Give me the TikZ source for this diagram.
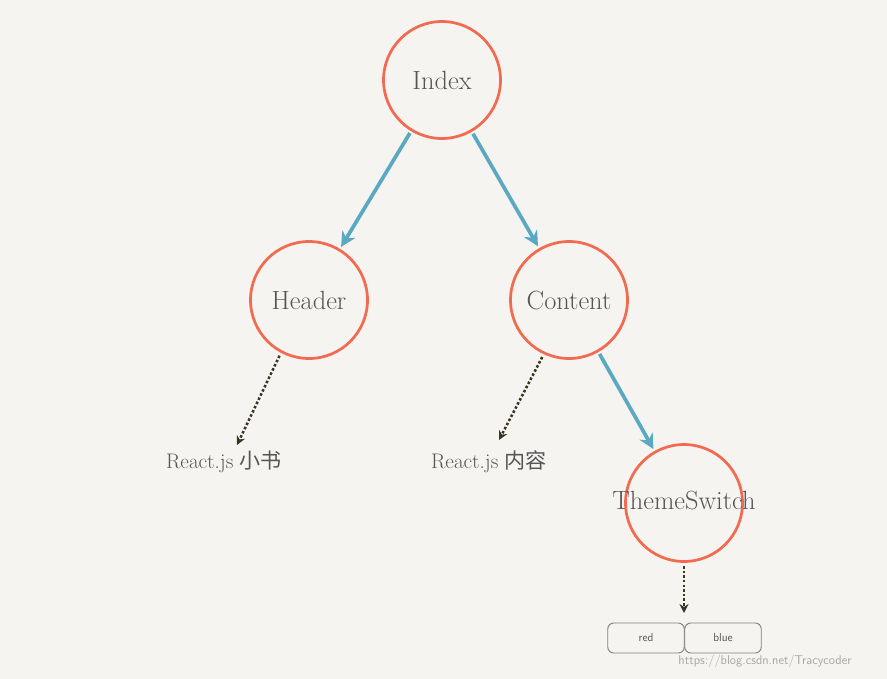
\documentclass[tikz,border=0pt]{standalone}
\usepackage{fontspec}
\usetikzlibrary{arrows.meta}
\newfontfamily\cjk{Noto Sans CJK SC}
\definecolor{bgc}{HTML}{F5F4F1}
\definecolor{ringc}{HTML}{F26B50}
\definecolor{flowc}{HTML}{5AA9C0}
\definecolor{dotc}{HTML}{3A3520}
\definecolor{txtc}{HTML}{555555}
\tikzstyle{comp} = [draw=ringc, circle, minimum size=3.9cm, line width=2.6pt, text=txtc, font=\fontsize{25}{25}\selectfont]
\tikzstyle{leaf} = [text=txtc, font=\fontsize{20}{20}\selectfont]
\tikzstyle{btn}  = [draw=gray, rounded corners=2mm, minimum width=2.55cm, minimum height=1cm, line width=0.9pt, font=\fontsize{11}{11}\sffamily, text=txtc]
\tikzstyle{flow} = [-{Stealth[length=5mm,width=5mm]}, flowc, line width=3.5pt, shorten <=2pt, shorten >=2pt]
\tikzstyle{dep}  = [-{Stealth[length=3mm,width=3mm]}, dotc, line width=2.4pt, dotted, shorten <=3pt]
\begin{document}
\begin{tikzpicture}[x=0.0333333cm,y=-0.0333333cm]
  \fill[bgc] (0,0) rectangle (887,679);
  \useasboundingbox (0,0) rectangle (887,679);
  \node at (442,80) (idx) [comp] {Index};
  \node at (309,300) (hdr) [comp] {Header};
  \node at (569,300) (cnt) [comp] {Content};
  \node at (684,503) (sw) [comp] {};
  \node at (684,500) (swl) [text=txtc, font=\fontsize{25}{25}\selectfont] {ThemeSwitch};
  \node at (224,462) (hdrtxt) [leaf] {React.js {\cjk 小书}};
  \node at (489,462) (cnttxt) [leaf] {React.js {\cjk 内容}};
  \node at (646,638) (red) [btn] {red};
  \node at (723,638) (blue) [btn] {blue};
  \coordinate (hdrend) at (237,445);
  \coordinate (cntend) at (499,440);
  \coordinate (btntop) at (684,613);
  \path[flow] (idx) edge (hdr)
              (idx) edge (cnt)
              (cnt) edge (sw);
  \draw[dep] (hdr.-118) -- (hdrend);
  \draw[dep] (cnt.-115) -- (cntend);
  \draw[dep] (sw) -- (btntop);
  \node at (765,661) (mark) [text=gray!70, font=\fontsize{12}{12}\sffamily] {https://blog.csdn.net/Tracycoder};
\end{tikzpicture}
\end{document}
